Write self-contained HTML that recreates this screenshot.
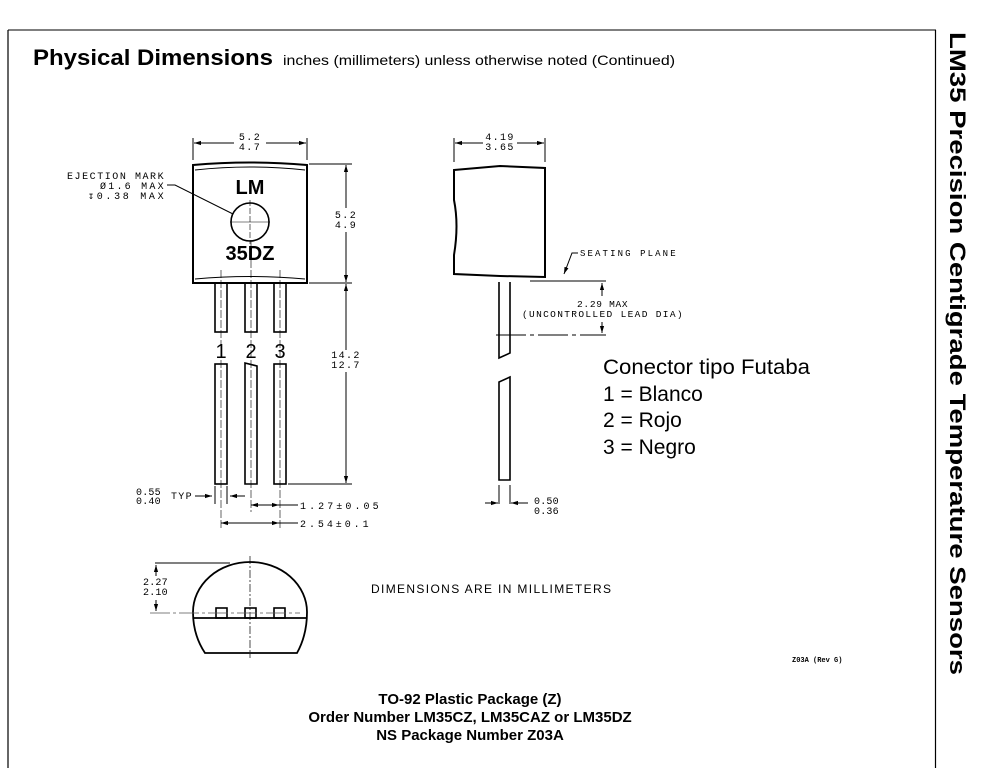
<!DOCTYPE html>
<html><head><meta charset="utf-8"><style>
html,body{margin:0;padding:0;background:#fff;}
svg{display:block;}
text{font-family:"Liberation Sans",sans-serif;fill:#000;}
.m text{font-family:"Liberation Mono","DejaVu Sans Mono",monospace;font-size:10px;letter-spacing:1.4px;}
</style></head><body>
<svg width="985" height="768" viewBox="0 0 985 768" xmlns="http://www.w3.org/2000/svg">
<defs>
<marker id="a" viewBox="0 0 10 10" refX="10" refY="5" markerWidth="7" markerHeight="7" orient="auto-start-reverse"><path d="M0,2 L10,5 L0,8 z" fill="#000"/></marker>
</defs>
<g stroke="#000" fill="none">
<line x1="8" y1="30" x2="936" y2="30" stroke="#555" stroke-width="1.5"/>
<line x1="8" y1="30" x2="8" y2="768" stroke-width="1.2"/>
<line x1="935.5" y1="30" x2="935.5" y2="768" stroke-width="1.2"/>
</g>
<text x="33" y="65" font-size="22" font-weight="bold" textLength="240" lengthAdjust="spacingAndGlyphs">Physical Dimensions</text>
<text x="283" y="65" font-size="14" textLength="392" lengthAdjust="spacingAndGlyphs">inches (millimeters) unless otherwise noted  (Continued)</text>
<text transform="translate(950,32) rotate(90)" font-size="22" font-weight="bold" textLength="643" lengthAdjust="spacingAndGlyphs">LM35 Precision Centigrade Temperature Sensors</text>

<g stroke="#000" fill="none" stroke-width="1">
<path d="M193,165 Q250,160 307,165 L307,283 L193,283 Z" stroke-width="2"/>
<path d="M195,170 Q250,164 305,170" />
<path d="M195,279 Q250,274 305,279" />
<circle cx="250" cy="222" r="19" stroke-width="1.6"/>
<line x1="230" y1="222" x2="270" y2="222" stroke-width="0.6"/>
<line x1="250" y1="200" x2="250" y2="244" stroke-width="0.6" stroke-dasharray="6,2"/>
<path d="M167,185 L175,185 L233,214" />
<line x1="193" y1="138" x2="193" y2="160"/><line x1="307" y1="138" x2="307" y2="160"/>
<line x1="194" y1="143" x2="234" y2="143" marker-start="url(#a)"/>
<line x1="266" y1="143" x2="306" y2="143" marker-end="url(#a)"/>
<line x1="309" y1="164" x2="352" y2="164"/>
<line x1="309" y1="283" x2="352" y2="283"/>
<line x1="288" y1="484" x2="352" y2="484"/>
<line x1="346" y1="165" x2="346" y2="208" marker-start="url(#a)"/>
<line x1="346" y1="232" x2="346" y2="282" marker-end="url(#a)"/>
<line x1="346" y1="284" x2="346" y2="350" marker-start="url(#a)"/>
<line x1="346" y1="372" x2="346" y2="483" marker-end="url(#a)"/>
<rect x="215" y="283" width="12" height="49" stroke-width="1.6"/>
<rect x="245" y="283" width="12" height="49" stroke-width="1.6"/>
<rect x="274" y="283" width="12" height="49" stroke-width="1.6"/>
<rect x="215" y="364" width="12" height="120" stroke-width="1.6"/>
<path d="M245,484 L245,363 L257,366 L257,484 Z" stroke-width="1.6"/>
<rect x="274" y="364" width="12" height="120" stroke-width="1.6"/>
<g stroke-width="0.6" stroke-dasharray="8,2">
<line x1="221" y1="270" x2="221" y2="530"/>
<line x1="251" y1="240" x2="251" y2="512"/>
<line x1="280" y1="270" x2="280" y2="530"/>
</g>
<line x1="195" y1="496" x2="212" y2="496" marker-end="url(#a)"/>
<line x1="245" y1="496" x2="230" y2="496" marker-end="url(#a)"/>
<line x1="215" y1="486" x2="215" y2="504"/><line x1="227" y1="486" x2="227" y2="504"/>
<line x1="251" y1="505" x2="298" y2="505" marker-start="url(#a)"/>
<line x1="221" y1="523" x2="298" y2="523" marker-start="url(#a)"/>
<line x1="264" y1="505" x2="279" y2="505" marker-end="url(#a)"/>
<line x1="250" y1="523" x2="279" y2="523" marker-end="url(#a)"/>

<path d="M454,170 L500,166 L545,168 L545,277 L500,276 L454,274 L454,255 Q459,225 454,200 Z" stroke-width="2"/>
<line x1="454" y1="138" x2="454" y2="162"/><line x1="545" y1="138" x2="545" y2="162"/>
<line x1="455" y1="143" x2="483" y2="143" marker-start="url(#a)"/>
<line x1="517" y1="143" x2="544" y2="143" marker-end="url(#a)"/>
<path d="M499,282 L499,358 L510,353 L510,282" stroke-width="1.6"/>
<path d="M499,480 L499,382 L510,377 L510,480 Z" stroke-width="1.6"/>
<line x1="530" y1="281" x2="606" y2="281"/>
<path d="M578,253 L572,253 L564,274" marker-end="url(#a)"/>
<line x1="496" y1="335" x2="606" y2="335" stroke-dasharray="30,4,4,4"/>
<line x1="602" y1="283" x2="602" y2="296" marker-start="url(#a)"/>
<line x1="602" y1="322" x2="602" y2="333" marker-end="url(#a)"/>
<line x1="499" y1="485" x2="499" y2="504"/><line x1="510" y1="485" x2="510" y2="504"/>
<line x1="485" y1="503" x2="498" y2="503" marker-end="url(#a)"/>
<line x1="528" y1="503" x2="511" y2="503" marker-end="url(#a)"/>

<path d="M205,653 L297,653 Q307,635 307,612 A57,50 0 1 0 193,612 Q193,635 205,653 Z" stroke-width="1.8"/>
<line x1="193" y1="618" x2="307" y2="618" stroke-width="1.8"/>
<rect x="216" y="608" width="11" height="10" stroke-width="1.6"/>
<rect x="245" y="608" width="11" height="10" stroke-width="1.6"/>
<rect x="274" y="608" width="11" height="10" stroke-width="1.6"/>
<line x1="250" y1="556" x2="250" y2="658" stroke-width="0.7" stroke-dasharray="8,2,2,2"/>
<line x1="150" y1="613" x2="300" y2="613" stroke-width="0.8" stroke="#555" stroke-dasharray="20,3,3,3"/>
<line x1="155" y1="563" x2="230" y2="563"/>
<line x1="156" y1="565" x2="156" y2="576" marker-start="url(#a)"/>
<line x1="156" y1="600" x2="156" y2="611" marker-end="url(#a)"/>
</g>

<text x="250" y="194" font-size="20" font-weight="bold" text-anchor="middle">LM</text>
<text x="250" y="260" font-size="20" font-weight="bold" text-anchor="middle">35DZ</text>
<text x="221" y="358" font-size="20" text-anchor="middle">1</text>
<text x="251" y="358" font-size="20" text-anchor="middle">2</text>
<text x="280" y="358" font-size="20" text-anchor="middle">3</text>
<g class="m">
<text x="250" y="140" text-anchor="middle">5.2</text>
<text x="250" y="150" text-anchor="middle">4.7</text>
<text x="67" y="179" textLength="98">EJECTION MARK</text>
<text x="100" y="189" textLength="65">Ø1.6 MAX</text>
<text x="88" y="199" textLength="77">↧0.38 MAX</text>
<text x="346" y="218" text-anchor="middle">5.2</text>
<text x="346" y="228" text-anchor="middle">4.9</text>
<text x="346" y="358" text-anchor="middle">14.2</text>
<text x="346" y="368" text-anchor="middle">12.7</text>
<text x="136" y="495" textLength="26">0.55</text>
<text x="136" y="504" textLength="26">0.40</text>
<text x="171" y="499" textLength="22">TYP</text>
<text x="300" y="509" textLength="80">1.27±0.05</text>
<text x="300" y="527" textLength="70">2.54±0.1</text>
<text x="500" y="140" text-anchor="middle">4.19</text>
<text x="500" y="150" text-anchor="middle">3.65</text>
<text x="580" y="256" textLength="97" style="font-size:9px">SEATING PLANE</text>
<text x="522" y="307" textLength="162" style="font-size:9.5px" transform="translate(0,0)"> </text>
<text x="577" y="307" textLength="52" style="font-size:9.5px">2.29 MAX</text>
<text x="522" y="317" textLength="162" style="font-size:9.5px">(UNCONTROLLED LEAD DIA)</text>
<text x="534" y="504" textLength="26">0.50</text>
<text x="534" y="514" textLength="26">0.36</text>
<text x="143" y="585" textLength="26">2.27</text>
<text x="143" y="595" textLength="26">2.10</text>
</g>
<text x="603" y="374" font-size="21" textLength="207" lengthAdjust="spacingAndGlyphs">Conector tipo Futaba</text>
<text x="603" y="401" font-size="21">1 = Blanco</text>
<text x="603" y="427" font-size="21">2 = Rojo</text>
<text x="603" y="454" font-size="21">3 = Negro</text>
<text x="371" y="593" font-size="12" textLength="240" lengthAdjust="spacing">DIMENSIONS  ARE  IN  MILLIMETERS</text>
<text x="792" y="662" font-size="7" font-weight="bold" style="font-family:'Liberation Mono',monospace">Z03A (Rev G)</text>
<text x="470" y="704" font-size="15" font-weight="bold" text-anchor="middle">TO-92 Plastic Package (Z)</text>
<text x="470" y="722" font-size="15" font-weight="bold" text-anchor="middle">Order Number LM35CZ, LM35CAZ or LM35DZ</text>
<text x="470" y="740" font-size="15" font-weight="bold" text-anchor="middle">NS Package Number Z03A</text>
</svg>
</body></html>
